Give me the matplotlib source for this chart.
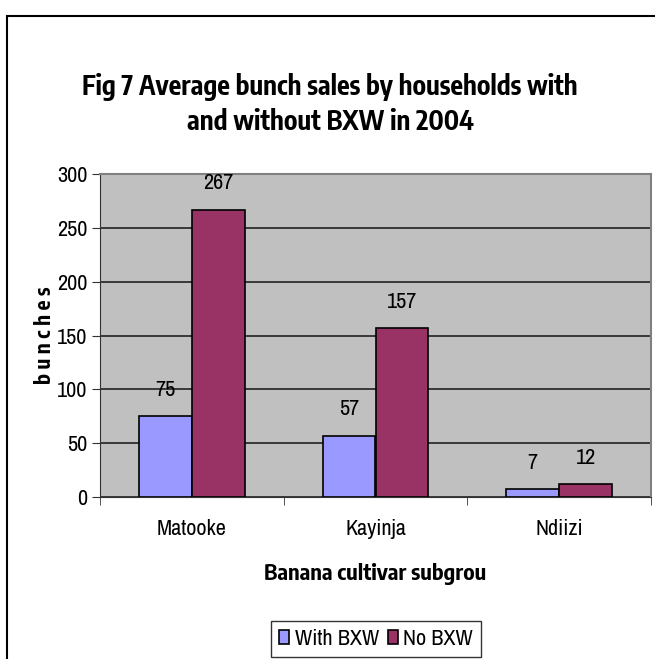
import numpy as np
import matplotlib.pyplot as plt
from matplotlib.patches import Rectangle

categories = ['Matooke', 'Kayinja', 'Ndiizi']
with_bxw = [75, 57, 7]
no_bxw = [267, 157, 12]
series_names = ['With BXW', 'No BXW']

plt.rcParams['font.family'] = ['Archivo Narrow', 'Liberation Sans', 'DejaVu Sans']
BOLD = ['Encode Sans Condensed', 'Liberation Sans', 'DejaVu Sans']

W, H = 655, 659
fig = plt.figure(figsize=(W / 100, H / 100), dpi=100)

# outer chart border (cut at right/bottom like the reference)
fig.patches.append(Rectangle((7 / W, -0.05), 1.2, 1 - 16 / H + 0.05, transform=fig.transFigure,
                             fill=False, edgecolor='black', linewidth=1.5))

left, right, top, bottom = 100, 651, 174, 497
ax = fig.add_axes([left / W, 1 - bottom / H, (right - left) / W, (bottom - top) / H])
ax.set_facecolor('#C0C0C0')
ax.set_axisbelow(True)

x = np.arange(len(categories))
bw = 0.288
b1 = ax.bar(x - bw / 2, with_bxw, bw, color='#9999FF', edgecolor='black', linewidth=1.2, label=series_names[0])
b2 = ax.bar(x + bw / 2, no_bxw, bw, color='#993366', edgecolor='black', linewidth=1.2, label=series_names[1])

for bars in (b1, b2):
    for r in bars:
        ax.text(r.get_x() + r.get_width() / 2, r.get_height() + 15, str(int(r.get_height())),
                ha='center', va='bottom', fontsize=16)

ax.set_xlim(-0.5, len(categories) - 0.5)
ax.set_ylim(0, 300)
ax.set_yticks(range(0, 301, 50))
ax.yaxis.grid(True, color='#222222', linewidth=1.2)
ax.tick_params(axis='y', labelsize=16, direction='out', length=6, color='#333333', pad=3)
ax.set_xticks(x)
ax.set_xticklabels(categories, fontsize=16)
ax.tick_params(axis='x', length=0, pad=16)
ax.set_xticks(np.arange(-0.5, len(categories) + 0.5, 1), minor=True)
ax.tick_params(axis='x', which='minor', length=6, direction='out', color='#333333')
for s in ['top', 'right']:
    ax.spines[s].set_color('#808080')
    ax.spines[s].set_linewidth(1.5)
ax.spines['left'].set_color('#333333')
ax.spines['bottom'].set_color('#333333')

ax.set_ylabel('b u n c h e s', fontsize=15, fontweight='bold', family=BOLD, labelpad=1)
ax.set_xlabel('Banana cultivar subgrou', fontsize=16, fontweight='bold', family=BOLD, labelpad=17)

fig.text(330 / W, 1 - 87 / H, 'Fig 7 Average bunch sales by households with', ha='center', va='center',
         fontsize=19, fontweight='bold', family=BOLD)
fig.text(330 / W, 1 - 122 / H, 'and without BXW in 2004', ha='center', va='center',
         fontsize=19, fontweight='bold', family=BOLD)

leg = fig.legend(loc='center', bbox_to_anchor=(376 / W, 1 - 639 / H), ncol=2, fontsize=16,
                 frameon=True, fancybox=False, edgecolor='black', handlelength=0.45, handleheight=0.55,
                 handletextpad=0.25, columnspacing=0.4, borderpad=0.35)
leg.get_frame().set_linewidth(1.0)

fig.savefig('out.png', dpi=100)
